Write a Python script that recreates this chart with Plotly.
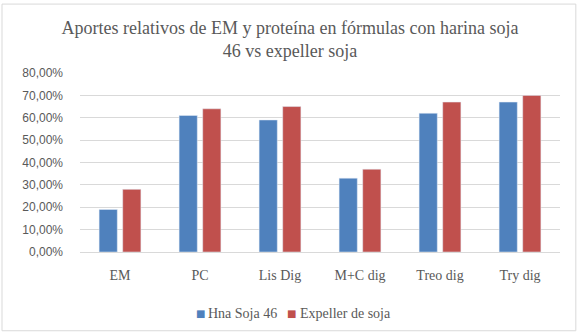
import plotly.graph_objects as go

categories = ["EM", "PC", "Lis Dig", "M+C dig", "Treo dig", "Try dig"]
hna_soja = [0.19, 0.61, 0.59, 0.33, 0.62, 0.67]
expeller = [0.28, 0.64, 0.65, 0.37, 0.67, 0.70]
series_names = ["Hna Soja 46", "Expeller de soja"]
series_colors = ["#4F81BD", "#C0504D"]
title_text = "Aportes relativos de EM y proteína en fórmulas con harina soja<br>46 vs expeller soja"
tick_vals = [0, 0.1, 0.2, 0.3, 0.4, 0.5, 0.6, 0.7, 0.8]

fig = go.Figure()
fig.add_trace(go.Bar(x=categories, y=hna_soja, name=series_names[0], marker_color=series_colors[0]))
fig.add_trace(go.Bar(x=categories, y=expeller, name=series_names[1], marker_color=series_colors[1]))

legend_font = dict(family="Liberation Serif", size=14, color="#595959")
legend_y = -0.341
square_x = [0.250, 0.440]
text_x = [0.262, 0.454]
legend_annotations = []
for i in range(2):
    legend_annotations.append(dict(
        text="■", xref="paper", yref="paper", x=square_x[i], y=legend_y,
        xanchor="center", yanchor="middle", showarrow=False,
        font=dict(family="DejaVu Sans", size=10, color=series_colors[i])))
    legend_annotations.append(dict(
        text=series_names[i], xref="paper", yref="paper", x=text_x[i], y=legend_y,
        xanchor="left", yanchor="middle", showarrow=False, font=legend_font))

fig.update_layout(
    width=580, height=334,
    margin=dict(l=80, r=20, t=73, b=82, autoexpand=False),
    paper_bgcolor="white", plot_bgcolor="white",
    separators=",.",
    barmode="group", bargap=0.41, bargroupgap=0.23,
    title=dict(text=title_text, x=0.5, xref="container", xanchor="center",
               y=0.898, yref="container", yanchor="middle",
               font=dict(family="Liberation Serif", size=18, color="#595959")),
    showlegend=False,
    annotations=legend_annotations,
    xaxis=dict(showline=True, linecolor="#D9D9D9", linewidth=1, ticks="",
               ticklabelstandoff=10,
               tickfont=dict(family="Liberation Serif", size=14, color="#595959")),
    yaxis=dict(range=[0, 0.8], tickvals=tick_vals, tickformat=".2%",
               showgrid=True, gridcolor="#D9D9D9", gridwidth=1, zeroline=False,
               ticks="", ticklabelstandoff=16,
               tickfont=dict(family="Liberation Sans", size=12, color="#595959")),
    shapes=[dict(type="rect", xref="paper", yref="paper",
                 x0=-0.1625, x1=1.033, y0=-0.44, y1=1.385,
                 line=dict(color="#D9D9D9", width=1), fillcolor="rgba(0,0,0,0)")],
)

fig.write_html("out.html")
